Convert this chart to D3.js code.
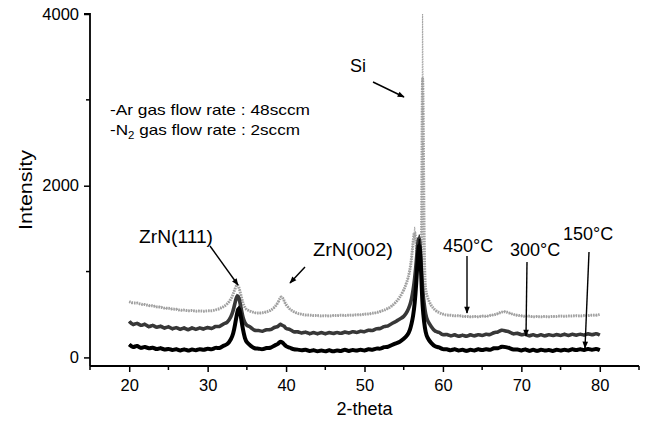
<!DOCTYPE html>
<html>
<head>
<meta charset="utf-8">
<script src="https://cdn.jsdelivr.net/npm/d3@7"></script>
<style>
  body { margin: 0; background: #fff; }
  svg text { font-family: "Liberation Sans", Arial, sans-serif; fill: #000; }
</style>
</head>
<body>
<div id="chart"></div>
<script>
// XRD patterns of ZrN films, 3 deposition temperatures

var twoTheta = [20,20.5,21,21.5,22,22.5,23,23.5,24,24.5,25,25.5,26,26.5,27,27.5,28,28.5,29,29.5,30,30.5,31,31.5,32,32.5,33,
  33.25,33.5,33.75,34,34.25,34.5,34.75,35,
  35.5,36,36.5,37,37.5,38,38.5,39,
  39.25,39.5,39.75,40,
  40.5,41,41.5,42,42.5,43,43.5,44,44.5,45,45.5,46,46.5,47,47.5,48,48.5,49,49.5,50,50.5,51,51.5,52,52.5,53,53.5,54,54.5,55,55.5,
  55.8,56,56.2,56.4,56.6,56.8,57,57.2,57.3,57.4,57.6,57.8,58,
  58.5,59,59.5,60,60.5,61,61.5,62,62.5,63,63.5,64,64.5,65,65.5,66,66.5,67,67.5,68,68.5,69,69.5,70,70.5,71,71.5,72,72.5,73,73.5,74,74.5,75,75.5,76,76.5,77,77.5,78,78.5,79,79.5,80];

// 150 C
var i150 = [150,110,145,100,135,95,125,85,120,80,110,75,105,70,105,70,100,75,105,80,110,85,120,100,140,145,215,
  270,380,520,600,470,320,220,170,
  135,100,105,90,115,105,140,155,
  190,175,155,125,
  115,90,95,75,100,65,95,60,90,60,95,60,90,65,100,65,95,70,100,70,105,80,110,95,125,120,145,165,180,215,260,
  320,390,480,620,850,1200,1380,1050,800,600,400,290,230,
  165,125,120,90,100,75,105,70,100,65,100,70,105,75,105,80,115,100,130,120,110,85,100,70,105,65,100,65,100,70,95,65,100,70,100,70,105,75,105,75,110,80,105,85];

// 300 C
var i300 = [420,370,410,360,400,345,385,340,375,330,370,320,360,315,355,310,355,315,355,320,360,325,370,350,395,400,475,
  540,640,730,700,580,460,400,370,
  355,305,320,295,330,315,355,355,
  395,370,370,330,
  330,290,305,275,305,265,300,265,300,265,300,270,300,270,305,275,310,280,315,290,325,305,340,330,365,360,400,415,450,470,540,
  610,680,780,920,1100,1350,1430,1150,950,800,620,500,430,
  360,295,300,255,275,240,275,235,270,235,275,240,275,245,280,255,295,290,325,305,300,265,290,255,280,240,275,240,275,240,275,245,275,245,280,245,280,250,280,250,285,255,285,260];

// 450 C
var i450 = [650,630,640,615,620,600,605,585,590,570,575,560,565,545,555,540,550,535,545,535,545,540,555,565,590,620,680,
  740,800,860,820,720,630,580,555,
  535,520,515,520,530,545,580,640,
  700,710,660,610,
  560,530,510,505,490,495,485,490,480,490,480,490,485,495,485,495,490,500,495,505,505,515,520,535,550,570,600,640,700,780,900,
  1020,1150,1350,1520,1300,1100,1000,1050,1300,4300,950,780,700,
  600,550,520,505,490,495,480,490,475,480,470,480,470,485,475,490,495,510,530,535,515,500,490,485,475,485,470,480,470,480,470,480,475,485,475,485,480,490,480,490,485,495,490,500];

var xTicks = [20, 30, 40, 50, 60, 70, 80];
var xMinor = [15, 25, 35, 45, 55, 65, 75, 85];
var yTicks = [0, 2000, 4000];
var yMinor = [1000, 3000];

var svgWidth = 646;
var svgHeight = 422;
var margin = { top: 14, right: 7, bottom: 56, left: 90 };
var width = svgWidth - margin.left - margin.right;
var height = svgHeight - margin.top - margin.bottom;

var svg = d3.select("#chart").append("svg")
  .attr("width", svgWidth)
  .attr("height", svgHeight);

var defs = svg.append("defs");
defs.append("clipPath").attr("id", "plotClip")
  .append("rect").attr("x", 0).attr("y", 0).attr("width", width).attr("height", height);
defs.append("marker").attr("id", "arrow")
  .attr("viewBox", "0 0 10 10").attr("refX", 9).attr("refY", 5)
  .attr("markerWidth", 10).attr("markerHeight", 7).attr("orient", "auto")
  .attr("markerUnits", "userSpaceOnUse")
  .append("path").attr("d", "M0,1 L10,5 L0,9 z").attr("fill", "#000");

var chartGroup = svg.append("g")
  .attr("transform", `translate(${margin.left}, ${margin.top})`);

var x = d3.scaleLinear().domain([15, 85]).range([0, width]);
var y = d3.scaleLinear().domain([-100, 4000]).range([height, 0]);

// raw trace (keeps the noise and the peak tops) + a smoothed band under it
var line = d3.line()
  .x((d, i) => x(twoTheta[i]))
  .y(d => y(d));
var band = d3.line()
  .x((d, i) => x(twoTheta[i]))
  .y(d => y(d))
  .curve(d3.curveBasis);

var series = [
  { values: i450, color: "#a0a0a0", bandWidth: 3, rawWidth: 1, dash: "1.5,1" },
  { values: i300, color: "#383838", bandWidth: 3.6, rawWidth: 1.2, dash: null },
  { values: i150, color: "#000", bandWidth: 4, rawWidth: 1.3, dash: null }
];

var curves = chartGroup.append("g").attr("clip-path", "url(#plotClip)");
series.forEach(function (s) {
  curves.append("path").datum(s.values)
    .attr("d", band).attr("fill", "none")
    .attr("stroke", s.color).attr("stroke-width", s.bandWidth)
    .attr("stroke-dasharray", s.dash);
  curves.append("path").datum(s.values)
    .attr("d", line).attr("fill", "none")
    .attr("stroke", s.color).attr("stroke-width", s.rawWidth)
    .attr("stroke-dasharray", s.dash);
});

// axes
var bottomAxis = d3.axisBottom(x).tickValues(xTicks).tickSize(6).tickPadding(7);
var leftAxis = d3.axisLeft(y).tickValues(yTicks).tickSize(6).tickPadding(5)
  .tickFormat(d3.format("d"));

var xAxis = chartGroup.append("g")
  .attr("transform", `translate(0, ${height})`)
  .call(bottomAxis);
xAxis.append("g").selectAll("line")
  .data(xMinor).enter().append("line")
  .attr("x1", d => x(d)).attr("x2", d => x(d))
  .attr("y1", 0).attr("y2", 4)
  .attr("stroke", "#000").attr("stroke-width", 1.5);

var yAxis = chartGroup.append("g").call(leftAxis);
yAxis.append("g").selectAll("line")
  .data(yMinor).enter().append("line")
  .attr("y1", d => y(d)).attr("y2", d => y(d))
  .attr("x1", 0).attr("x2", -4)
  .attr("stroke", "#000").attr("stroke-width", 1.5);

[xAxis, yAxis].forEach(function (ax) {
  ax.select(".domain").attr("stroke", "#000").attr("stroke-width", 1.8);
  ax.selectAll(".tick line").attr("stroke", "#000").attr("stroke-width", 1.5);
  ax.selectAll(".tick text").attr("font-size", "16.5px")
    .attr("font-family", "Liberation Sans, Arial, sans-serif");
});
yAxis.select(".domain").attr("d", `M-6,${y(4000)}H0V${height}`);
xAxis.select(".domain").attr("d", `M0,0H${width}`);

// axis titles
svg.append("text")
  .attr("x", margin.left + width / 2).attr("y", 415)
  .attr("text-anchor", "middle").attr("font-size", "18px")
  .text("2-theta");
svg.append("text")
  .attr("transform", `translate(32, ${margin.top + y(1950)}) rotate(-90)`)
  .attr("text-anchor", "middle").attr("font-size", "19px")
  .attr("textLength", 80).attr("lengthAdjust", "spacingAndGlyphs")
  .text("Intensity");

// deposition conditions
var cond = svg.append("g").attr("font-size", "15px");
cond.append("text").attr("x", 110).attr("y", 115)
  .attr("textLength", 200).attr("lengthAdjust", "spacingAndGlyphs")
  .text("-Ar gas flow rate : 48sccm");
var n2 = cond.append("text").attr("x", 110).attr("y", 135)
  .attr("textLength", 190).attr("lengthAdjust", "spacingAndGlyphs");
n2.append("tspan").text("-N");
n2.append("tspan").attr("font-size", "10px").attr("dy", 4).text("2");
n2.append("tspan").attr("dy", -4).text(" gas flow rate : 2sccm");

// peak labels and arrows
var notes = svg.append("g").attr("font-size", "18px");
function arrow(x1, y1, x2, y2) {
  notes.append("line")
    .attr("x1", x1).attr("y1", y1).attr("x2", x2).attr("y2", y2)
    .attr("stroke", "#000").attr("stroke-width", 1.4)
    .attr("marker-end", "url(#arrow)");
}
notes.append("text").attr("x", 350).attr("y", 72).text("Si");
arrow(373, 82, 404, 97);

notes.append("text").attr("x", 213).attr("y", 243).attr("text-anchor", "end")
  .attr("textLength", 74).attr("lengthAdjust", "spacingAndGlyphs").text("ZrN(111)");
arrow(210, 246, 238, 285);

notes.append("text").attr("x", 313).attr("y", 256)
  .attr("textLength", 80).attr("lengthAdjust", "spacingAndGlyphs").text("ZrN(002)");
arrow(305, 267, 290, 283);

notes.append("text").attr("x", 443).attr("y", 252).text("450°C");
arrow(467, 256, 467, 313);
notes.append("text").attr("x", 510).attr("y", 256).text("300°C");
arrow(527, 262, 526, 336);
notes.append("text").attr("x", 563).attr("y", 240).text("150°C");
arrow(589, 252, 585, 348);
</script>
</body>
</html>
